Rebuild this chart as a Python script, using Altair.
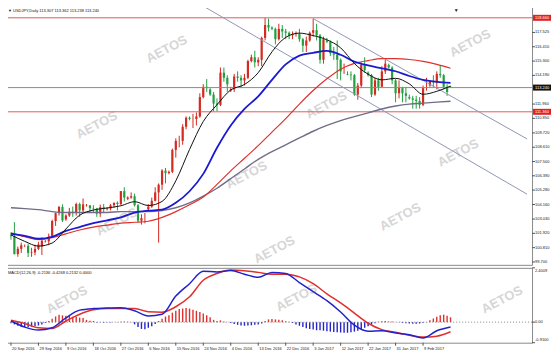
import altair as alt
import pandas as pd

# ---------------- data ----------------
opens = [101.75, 101.70, 100.31, 100.72, 100.95, 100.95, 100.40, 100.44, 100.71, 100.90,
         101.30, 101.30, 101.67, 102.88, 103.48, 103.97, 103.00, 103.30, 103.60, 103.55,
         104.20, 103.70, 104.10, 104.10, 103.87, 103.84, 103.45, 103.95, 103.80, 103.85,
         104.10, 104.30, 104.20, 105.20, 104.60, 104.70, 104.80, 104.10, 102.90, 103.10,
         103.80, 104.00, 104.45, 105.10, 105.70, 106.80, 106.60, 106.70, 108.40, 109.10,
         109.10, 110.20, 110.90, 110.80, 110.80, 111.00, 112.50, 113.30, 113.10, 112.70,
         112.00, 111.90, 114.40, 114.00, 113.00, 113.10, 114.10, 114.00, 113.80, 114.00,
         115.30, 115.60, 115.20, 115.40, 117.10, 118.10, 117.90, 117.80, 117.00, 117.80,
         117.60, 117.50, 117.30, 117.40, 117.40, 117.00, 116.50, 116.90, 117.50, 117.70,
         117.30, 115.40, 116.90, 116.80, 115.90, 115.80, 115.40, 114.50, 114.30, 114.25,
         114.20, 112.70, 113.40, 115.00, 114.40, 114.20, 112.70, 113.80, 113.30, 114.50,
         115.00, 114.80, 113.80, 112.80, 113.20, 112.80, 112.50, 112.40, 112.30, 112.20,
         111.90, 113.20, 113.40, 113.70, 113.65, 114.30, 114.20, 113.30, 113.307]
highs = [101.99, 102.79, 100.90, 101.20, 101.05, 101.10, 100.80, 101.04, 101.26, 101.60,
         101.40, 101.90, 102.98, 103.55, 104.05, 104.17, 103.40, 103.90, 104.00, 104.30,
         104.30, 104.63, 104.20, 104.10, 104.10, 103.90, 104.15, 104.20, 103.95, 104.20,
         104.30, 104.40, 105.20, 105.50, 104.80, 105.10, 105.00, 104.20, 103.40, 103.50,
         104.20, 104.70, 105.50, 105.80, 106.90, 107.00, 106.80, 108.50, 109.30, 109.50,
         110.40, 111.00, 111.00, 111.20, 111.30, 112.80, 113.50, 113.90, 113.20, 112.90,
         112.40, 114.80, 114.80, 114.20, 113.30, 114.30, 114.50, 114.20, 114.30, 115.40,
         115.80, 116.10, 115.60, 117.20, 118.66, 118.60, 118.00, 117.90, 118.20, 118.10,
         117.80, 117.60, 117.60, 117.60, 117.80, 117.10, 117.20, 117.60, 118.60, 118.20,
         117.40, 117.20, 117.10, 116.90, 116.40, 116.90, 115.50, 115.10, 114.50, 114.50,
         114.30, 113.60, 115.20, 115.60, 114.50, 114.30, 114.00, 114.00, 114.90, 115.40,
         115.10, 114.90, 113.90, 113.80, 113.30, 113.30, 112.70, 112.60, 112.60, 112.50,
         113.40, 114.00, 113.80, 114.20, 114.50, 114.95, 114.30, 113.50, 113.362]
lows = [101.43, 100.28, 100.10, 100.40, 100.85, 100.08, 100.10, 100.22, 100.62, 100.24,
        101.20, 101.00, 101.60, 102.50, 103.30, 102.80, 102.90, 103.20, 103.20, 103.30,
        103.20, 103.50, 104.00, 103.50, 103.50, 103.20, 103.20, 103.50, 103.70, 103.70,
        103.90, 103.70, 104.10, 104.40, 104.50, 104.60, 104.00, 102.80, 102.60, 102.70,
        103.70, 103.90, 104.40, 101.20, 105.30, 105.80, 106.50, 106.60, 107.80, 108.60,
        108.80, 110.00, 110.70, 110.10, 110.30, 110.90, 112.40, 112.90, 112.60, 111.40,
        111.40, 111.80, 113.70, 112.90, 112.90, 112.90, 113.70, 113.20, 113.40, 113.90,
        115.20, 114.80, 114.90, 114.90, 116.90, 117.60, 117.70, 116.60, 116.90, 117.10,
        117.00, 117.00, 117.00, 117.20, 116.80, 116.00, 116.00, 116.80, 117.20, 116.90,
        115.10, 115.10, 116.70, 115.70, 115.40, 113.90, 113.80, 114.30, 114.20, 113.80,
        112.60, 112.30, 113.20, 114.40, 114.10, 112.50, 112.60, 113.00, 113.30, 114.30,
        114.70, 113.50, 112.10, 112.40, 112.10, 112.10, 112.30, 111.60, 111.60, 111.60,
        111.80, 113.00, 113.30, 113.30, 113.10, 114.00, 113.10, 112.60, 113.238]
closes = [101.70, 100.31, 100.72, 100.99, 100.95, 100.40, 100.44, 100.71, 101.05, 101.35,
          101.32, 101.67, 102.88, 103.48, 103.97, 102.92, 103.30, 103.60, 103.55, 104.20,
          103.70, 104.17, 104.12, 103.87, 103.84, 103.45, 103.95, 103.80, 103.85, 104.10,
          104.30, 104.20, 105.20, 104.70, 104.70, 104.80, 104.10, 102.90, 103.10, 103.10,
          104.00, 104.45, 105.10, 105.70, 106.80, 106.60, 106.70, 108.40, 109.10, 109.10,
          110.20, 110.90, 110.80, 110.80, 111.00, 112.50, 113.30, 113.20, 112.70, 112.00,
          111.90, 114.40, 114.00, 113.50, 113.10, 114.10, 114.00, 113.80, 114.00, 115.30,
          115.60, 115.20, 115.40, 117.10, 118.10, 117.90, 117.80, 117.00, 117.80, 117.60,
          117.50, 117.30, 117.40, 117.45, 117.00, 116.50, 116.90, 117.50, 117.70, 117.30,
          115.40, 117.00, 116.80, 115.90, 115.80, 115.40, 114.50, 114.50, 114.25, 114.20,
          112.70, 113.40, 115.00, 114.60, 114.20, 112.70, 113.80, 113.30, 114.50, 115.10,
          114.80, 113.80, 112.80, 113.20, 112.80, 112.60, 112.40, 112.30, 112.20, 111.90,
          113.20, 113.25, 113.70, 113.65, 114.30, 114.20, 113.30, 112.90, 113.240]

# moving averages, sampled every 4 bars (bar 0, 4, ..., 128)
ma_bars = list(range(0, 129, 4))
ma_fast = [101.80, 101.30, 100.93, 101.17, 102.26, 103.33, 103.73, 103.89, 104.06, 104.38,
           104.08, 104.40, 106.00, 108.43, 110.61, 111.91, 113.06, 113.48, 114.40, 116.02,
           117.14, 117.47, 117.28, 116.95, 116.33, 115.11, 114.28, 113.84, 113.96, 113.53,
           112.72, 112.95, 113.36]
ma_mid = [101.88, 101.73, 101.50, 101.65, 102.11, 102.41, 102.71, 102.93, 103.16, 103.53,
          103.68, 103.76, 104.29, 105.19, 106.54, 108.57, 110.30, 111.58, 112.56, 113.84,
          115.04, 115.72, 115.94, 116.09, 115.79, 115.26, 114.96, 114.74, 114.51, 114.14,
          113.84, 113.68, 113.61]
ma_slow = [101.96, 101.66, 101.43, 101.58, 101.88, 102.18, 102.41, 102.56, 102.71, 102.78,
           102.86, 103.16, 103.61, 104.14, 104.74, 105.72, 106.77, 107.75, 108.73, 109.78,
           110.83, 111.96, 113.01, 113.92, 114.67, 115.12, 115.34, 115.49, 115.49, 115.42,
           115.27, 115.04, 114.74]
ma_long = [103.91, 103.84, 103.76, 103.61, 103.54, 103.54, 103.54, 103.54, 103.61, 103.61,
           103.61, 103.69, 103.91, 104.29, 104.81, 105.42, 106.17, 106.92, 107.67, 108.27,
           108.80, 109.33, 109.85, 110.30, 110.68, 110.98, 111.28, 111.58, 111.81, 111.96,
           112.03, 112.11, 112.18]

# MACD(12,26,9) main and signal, every 4 bars; histogram for every bar
macd_main = [0.05, -0.22, -0.35, -0.25, 0.19, 0.53, 0.60, 0.62, 0.64, 0.50,
             0.27, 0.35, 1.15, 1.70, 2.25, 2.22, 2.28, 2.12, 1.98, 2.20,
             2.15, 1.75, 1.35, 0.95, 0.45, -0.13, -0.40, -0.38, -0.48, -0.56,
             -0.70, -0.38, -0.2136]
macd_signal = [0.08, -0.06, -0.25, -0.28, 0.05, 0.35, 0.55, 0.60, 0.60, 0.60,
               0.46, 0.44, 0.68, 1.12, 1.85, 2.15, 2.30, 2.27, 2.20, 2.12,
               2.12, 2.00, 1.70, 1.25, 0.85, 0.40, -0.05, -0.33, -0.45, -0.58,
               -0.66, -0.62, -0.4268]
macd_hist = [-0.05, -0.10, -0.16, -0.20, -0.22, -0.22, -0.20, -0.18, -0.15, -0.10,
             -0.04, 0.05, 0.15, 0.25, 0.33, 0.30, 0.28, 0.27, 0.24, 0.24,
             0.20, 0.18, 0.10, 0.06, 0.05, -0.03, -0.02, -0.03, -0.02, -0.02,
             -0.01, -0.01, 0.02, 0.03, 0.02, -0.02, -0.10, -0.22, -0.30, -0.32,
             -0.25, -0.18, -0.08, 0.05, 0.15, 0.25, 0.30, 0.42, 0.50, 0.58,
             0.60, 0.62, 0.60, 0.55, 0.50, 0.45, 0.38, 0.30, 0.22, 0.10,
             0.05, 0.08, 0.03, 0.01, -0.04, -0.08, -0.12, -0.15, -0.16, -0.15,
             -0.14, -0.12, -0.10, -0.06, 0.05, 0.12, 0.14, 0.12, 0.10, 0.08,
             0.04, 0.02, -0.04, -0.10, -0.16, -0.22, -0.27, -0.30, -0.33, -0.36,
             -0.36, -0.38, -0.40, -0.42, -0.44, -0.45, -0.46, -0.47, -0.47, -0.45,
             -0.42, -0.38, -0.32, -0.25, -0.18, -0.10, -0.05, 0.02, 0.04, 0.05,
             0.03, 0.03, 0.01, -0.02, -0.04, -0.05, -0.06, -0.07, -0.07, -0.06,
             -0.04, -0.01, 0.08, 0.16, 0.24, 0.30, 0.33, 0.28, 0.2132]

price_ticks = [117.525, 116.410, 115.300, 114.190, 111.960, 110.850, 109.720, 108.610,
               107.500, 106.390, 105.280, 104.160, 103.030, 101.920, 100.810, 99.700]
macd_ticks = [2.4009, 0.0, -0.9100]
macd_tick_labels = ["2.4009", "0.00", "-0.9100"]
date_tick_bars = list(range(0, 121, 8))
date_labels = ["20 Sep 2016", "29 Sep 2016", "9 Oct 2016", "18 Oct 2016", "27 Oct 2016",
               "6 Nov 2016", "15 Nov 2016", "24 Nov 2016", "4 Dec 2016", "13 Dec 2016",
               "22 Dec 2016", "3 Jan 2017", "12 Jan 2017", "22 Jan 2017", "31 Jan 2017",
               "9 Feb 2017"]

level_values = [118.660, 113.240, 111.360]
level_labels = ["118.660", "113.240", "111.360"]
level_kind = ["red", "bid", "red"]

channel_id = ["A", "A", "B", "B"]
channel_bar = [88.0, 150.3, 50.0, 150.3]
channel_price = [118.60, 109.25, 120.50, 104.96]

header_text = "USDJPY,Daily  113.307 113.362 113.238 113.240"
macd_header = "MACD(12,26,9) -0.2136 -0.4268 0.2132 0.0000"

# ---------------- frames ----------------
n = len(opens)
candles = pd.DataFrame({"bar": list(range(n)), "open": opens, "high": highs,
                        "low": lows, "close": closes})
candles["dir"] = ["up" if c >= o else "down" for o, c in zip(opens, closes)]
ma = pd.DataFrame({"bar": ma_bars, "fast": ma_fast, "mid": ma_mid,
                   "slow": ma_slow, "long": ma_long,
                   "macd": macd_main, "signal": macd_signal})
hist = pd.DataFrame({"bar": list(range(n)), "h": macd_hist})
hist["sign"] = ["pos" if v >= 0 else "neg" for v in macd_hist]
levels = pd.DataFrame({"v": level_values, "label": level_labels, "kind": level_kind,
                       "boxkind": level_kind})
channels = pd.DataFrame({"id": channel_id, "bar": channel_bar, "price": channel_price})
pticks = pd.DataFrame({"v": price_ticks, "label": [f"{v:.3f}" for v in price_ticks]})
mticks = pd.DataFrame({"v": macd_ticks, "label": macd_tick_labels})
dticks = pd.DataFrame({"bar": date_tick_bars, "label": date_labels})

W = 528
H1 = 260
H2 = 75
FONT = "Liberation Sans"
AX = "#555555"
LF = 4

xs = alt.Scale(domain=[-0.28, 150.28], nice=False, zero=False)
ys = alt.Scale(domain=[99.474, 119.63], nice=False, zero=False)
ms = alt.Scale(domain=[-0.91, 2.4009], nice=False, zero=False)

X = alt.X("bar:Q", scale=xs, axis=None)


def watermarks(points):
    layers = []
    for (px, py) in points:
        layers.append(
            alt.Chart(pd.DataFrame({"t": ["AETOS"]})).mark_text(
                font=FONT, fontSize=13, fontWeight="bold", angle=332,
                color="#d6d6d6", clip=True
            ).encode(x=alt.value(px), y=alt.value(py), text="t:N")
        )
    return layers


wm_price = watermarks([(162, 44), (466, 38), (92, 120), (322, 100), (242, 170),
                       (454, 148), (112, 217), (396, 212), (270, 245)])
wm_macd = watermarks([(62, 32), (292, 30), (498, 32)])


def right_ticks(df, scale):
    return alt.Chart(df).mark_rule(color=AX, strokeWidth=1).encode(
        x=alt.value(W), x2=alt.value(W + 3),
        y=alt.Y("v:Q", scale=scale, axis=None))


def right_labels(df, scale, baseline="middle", dy=0):
    return alt.Chart(df).mark_text(font=FONT, fontSize=LF, align="left",
                                   baseline=baseline, dy=dy, color="#222").encode(
        x=alt.value(W + 3), y=alt.Y("v:Q", scale=scale, axis=None), text="label:N")


hlines = alt.Chart(levels).mark_rule(strokeWidth=1).encode(
    y=alt.Y("v:Q", scale=ys, axis=None),
    color=alt.Color("kind:N", scale=alt.Scale(domain=["red", "bid"],
                                              range=["#e05a5a", "#8a8a8a"]), legend=None),
)

chan = alt.Chart(channels).mark_line(strokeWidth=1, color="#9096b8", clip=True).encode(
    x=X, y=alt.Y("price:Q", scale=ys, axis=None), detail="id:N")


def ma_line(field, color, width):
    return alt.Chart(ma).mark_line(color=color, strokeWidth=width, interpolate="monotone",
                                   clip=True).encode(
        x=X, y=alt.Y(f"{field}:Q", scale=ys, axis=None))


cscale = alt.Scale(domain=["up", "down"], range=["#d42a20", "#22a040"])
wicks = alt.Chart(candles).mark_rule(strokeWidth=1).encode(
    x=X, y=alt.Y("low:Q", scale=ys, axis=None), y2="high:Q",
    color=alt.Color("dir:N", scale=cscale, legend=None))
bodies = alt.Chart(candles).mark_bar(size=2.2).encode(
    x=X, y=alt.Y("open:Q", scale=ys, axis=None), y2="close:Q",
    color=alt.Color("dir:N", scale=cscale, legend=None))

header = alt.Chart(pd.DataFrame({"t": ["\u25bc " + header_text]})).mark_text(
    font=FONT, fontSize=LF, align="left", baseline="middle", color="#111").encode(
    x=alt.value(3), y=alt.value(6), text="t:N")
shift_mark = alt.Chart(pd.DataFrame({"t": ["\u25bc"]})).mark_text(
    font=FONT, fontSize=5, align="center", baseline="middle", color="#222").encode(
    x=alt.value(452), y=alt.value(5), text="t:N")

boxes = alt.Chart(levels).mark_rect(yOffset=-3, y2Offset=3).encode(
    x=alt.value(W + 1), x2=alt.value(W + 19),
    y=alt.Y("v:Q", scale=ys, axis=None), y2="v:Q",
    color=alt.Color("boxkind:N", scale=alt.Scale(domain=["red", "bid"],
                                                 range=["#e02020", "#111111"]), legend=None))
box_text = alt.Chart(levels).mark_text(font=FONT, fontSize=LF, align="left",
                                       baseline="middle", color="white").encode(
    x=alt.value(W + 3), y=alt.Y("v:Q", scale=ys, axis=None), text="label:N")

price_panel = alt.layer(
    wicks, bodies, *wm_price, hlines, chan,
    ma_line("long", "#736c88", 1.4),
    ma_line("slow", "#e0302c", 1.2),
    ma_line("mid", "#1a1ad0", 1.8),
    ma_line("fast", "#111111", 1.0),
    header, shift_mark, right_ticks(pticks, ys), right_labels(pticks, ys), boxes, box_text,
).resolve_scale(color="independent").properties(width=W, height=H1)

# ---------------- MACD panel ----------------
zero = alt.Chart(pd.DataFrame({"z": [0.0]})).mark_rule(
    strokeDash=[1, 2], color="#888", strokeWidth=1).encode(
    y=alt.Y("z:Q", scale=ms, axis=None))
bars = alt.Chart(hist).mark_bar(size=1.4).encode(
    x=X,
    y=alt.Y("h:Q", scale=ms, axis=None), y2=alt.datum(0),
    color=alt.Color("sign:N", scale=alt.Scale(domain=["pos", "neg"],
                                              range=["#e0302c", "#2424c8"]), legend=None))
m_line = alt.Chart(ma).mark_line(color="#2222cc", strokeWidth=1.5, interpolate="monotone",
                                 clip=True).encode(
    x=X, y=alt.Y("macd:Q", scale=ms, axis=None))
s_line = alt.Chart(ma).mark_line(color="#e0302c", strokeWidth=1.5, interpolate="monotone",
                                 clip=True).encode(
    x=X, y=alt.Y("signal:Q", scale=ms, axis=None))
m_header = alt.Chart(pd.DataFrame({"t": [macd_header]})).mark_text(
    font=FONT, fontSize=LF, align="left", baseline="middle", color="#111").encode(
    x=alt.value(3), y=alt.value(5), text="t:N")

date_ticks = alt.Chart(dticks).mark_rule(color=AX, strokeWidth=1).encode(
    x=X, y=alt.value(H2), y2=alt.value(H2 + 3))
date_text = alt.Chart(dticks).mark_text(font=FONT, fontSize=LF, align="left",
                                        baseline="middle", color="#222", dx=1).encode(
    x=X, y=alt.value(H2 + 6), text="label:N")

mtop = mticks.iloc[[0]]
mmid = mticks.iloc[[1]]
mbot = mticks.iloc[[2]]

macd_panel = alt.layer(
    bars, *wm_macd, zero, s_line, m_line, m_header,
    right_ticks(mticks, ms),
    right_labels(mtop, ms, "top", 1), right_labels(mmid, ms), right_labels(mbot, ms, "bottom", -1),
    date_ticks, date_text,
).resolve_scale(color="independent").properties(width=W, height=H2)

chart = alt.vconcat(price_panel, macd_panel, spacing=1,
                    padding={"left": -4, "top": -4, "right": 0, "bottom": 0},
                    background="white").configure_view(
    stroke="#8a8a8a", strokeWidth=1).configure_axis(grid=False)

chart.save("out.html", embed_options={"renderer": "svg", "actions": False})
